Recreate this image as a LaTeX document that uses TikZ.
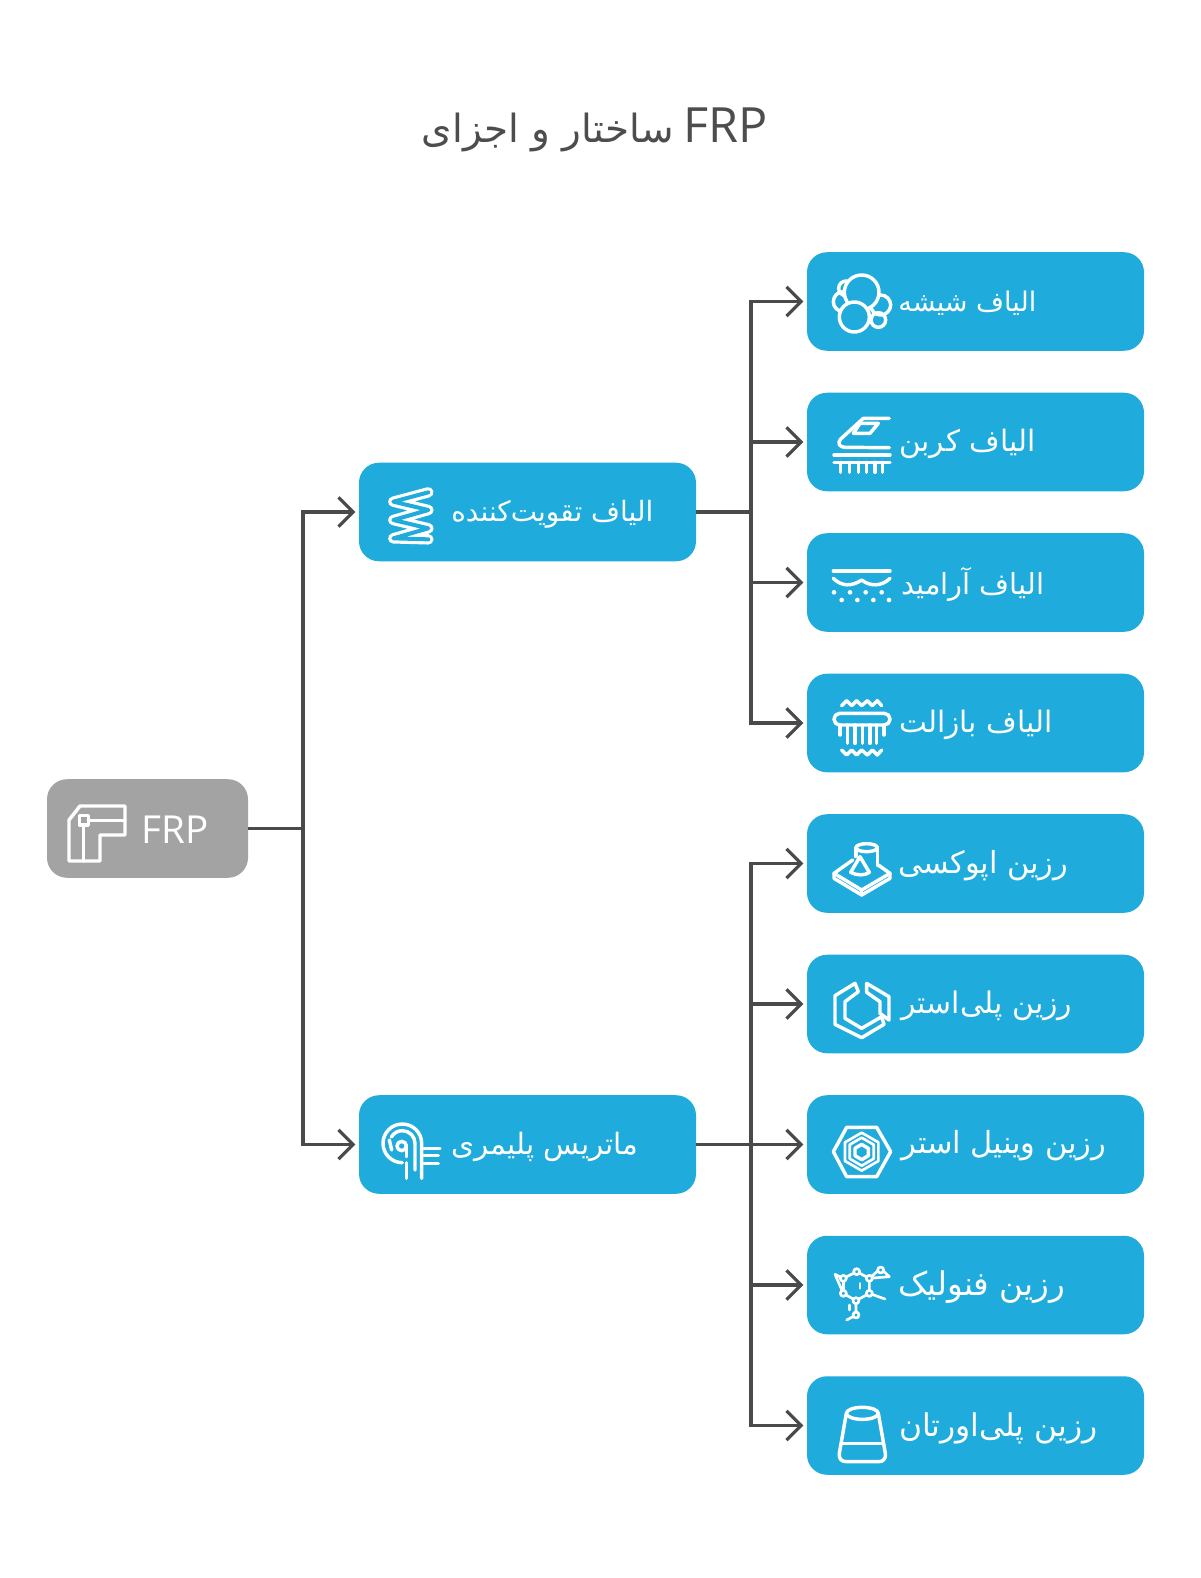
\documentclass[tikz,border=0pt]{standalone}
\usepackage{fontspec}
\usepackage{graphicx}
\usetikzlibrary{arrows.meta}
\setmainfont{Open Sans}
\newfontfamily\arabicfont[Script=Arabic]{DejaVu Sans}
\TeXXeTstate=1
\definecolor{boxblue}{HTML}{1FABDC}
\definecolor{boxgray}{HTML}{A3A3A3}
\definecolor{linegray}{HTML}{4A4A4A}
\definecolor{titlegray}{HTML}{4D4D4D}
\newdimen\pxu \pxu=0.75pt
\tikzset{
 boxbase/.style={rounded corners=15pt,minimum width=252.75pt,minimum height=73.9pt,inner sep=0pt,draw=none},
 bluebox/.style={boxbase,fill=boxblue},
 rootbox/.style={boxbase,fill=boxgray,minimum width=150.75pt},
 conn/.style={draw=linegray,line width=2.4pt,-{Straight Barb[length=11pt,width=22pt,line width=2.4pt]},shorten >=2.5pt},
 trunk/.style={draw=linegray,line width=2.4pt},
 labeltext/.style={text=white,inner sep=0pt,anchor=west},
 iconline/.style={draw=white,line width=2.6pt,line cap=round,line join=round},
 thin icon/.style={draw=white,line width=2pt,line cap=round,line join=round},
 iconscope/.style={x=0.25pt,y=-0.25pt}
}
\begin{document}
\begin{tikzpicture}[x=0.75pt,y=-0.75pt]
\useasboundingbox (0,0) rectangle (1200,1578);
\fill[white] (0,0) rectangle (1200,1578);
\node[text=titlegray,inner sep=0pt] (title) at (595,130) {\resizebox{346\pxu}{!}{\beginR\beginL\scalebox{1.25}{FRP}\endL{} {\arabicfont ساختار و اجزای}\endR}};
\node[rootbox] (root) at (147.5,828.5) {};
\node[bluebox] (m1) at (527.5,512) {};
\node[bluebox] (m2) at (527.5,1144.5) {};
\node[bluebox] (r1) at (975.5,301.5) {};
\node[bluebox] (r2) at (975.5,442) {};
\node[bluebox] (r3) at (975.5,582.5) {};
\node[bluebox] (r4) at (975.5,723) {};
\node[bluebox] (r5) at (975.5,863.5) {};
\node[bluebox] (r6) at (975.5,1004) {};
\node[bluebox] (r7) at (975.5,1144.5) {};
\node[bluebox] (r8) at (975.5,1285) {};
\node[bluebox] (r9) at (975.5,1425.5) {};
\coordinate (t0) at (303,828.5);
\coordinate (t1) at (751,512);
\coordinate (t2) at (751,1144.5);
\draw[trunk] (root.east) -- (t0);
\draw[conn] (t0) |- (m1.west);
\draw[conn] (t0) |- (m2.west);
\draw[trunk] (m1.east) -- (t1);
\draw[trunk] (m2.east) -- (t2);
\draw[conn] (t1) |- (r1.west);
\draw[conn] (t1) |- (r2.west);
\draw[conn] (t1) |- (r3.west);
\draw[conn] (t1) |- (r4.west);
\draw[conn] (t2) |- (r5.west);
\draw[conn] (t2) |- (r6.west);
\draw[conn] (t2) |- (r7.west);
\draw[conn] (t2) |- (r8.west);
\draw[conn] (t2) |- (r9.west);
% labels
\node[labeltext] (lroot) at (141,830) {\resizebox{67\pxu}{!}{FRP}};
\node[labeltext] (l1) at (451,514) {\resizebox{202\pxu}{!}{\arabicfont\beginR الیاف تقویت‌کننده\endR}};
\node[labeltext] (l2) at (451,1147) {\resizebox{187\pxu}{!}{\arabicfont\beginR ماتریس پلیمری\endR}};
\node[labeltext] (la) at (898,303) {\resizebox{138\pxu}{!}{\arabicfont\beginR الیاف شیشه\endR}};
\node[labeltext] (lb) at (899,444) {\resizebox{136\pxu}{!}{\arabicfont\beginR الیاف کربن\endR}};
\node[labeltext] (lc) at (901,584) {\resizebox{143\pxu}{!}{\arabicfont\beginR الیاف آرامید\endR}};
\node[labeltext] (ld) at (899,725) {\resizebox{153\pxu}{!}{\arabicfont\beginR الیاف بازالت\endR}};
\node[labeltext] (le) at (898,866) {\resizebox{170\pxu}{!}{\arabicfont\beginR رزین اپوکسی\endR}};
\node[labeltext] (lf) at (901,1006) {\resizebox{171\pxu}{!}{\arabicfont\beginR رزین پلی‌استر\endR}};
\node[labeltext] (lg) at (901,1146) {\resizebox{205\pxu}{!}{\arabicfont\beginR رزین وینیل استر\endR}};
\node[labeltext] (lh) at (898,1287) {\resizebox{167\pxu}{!}{\arabicfont\beginR رزین فنولیک\endR}};
\node[labeltext] (li) at (899,1428) {\resizebox{198\pxu}{!}{\arabicfont\beginR رزین پلی‌اورتان\endR}};
% root icon
\begin{scope}[shift={(30,770)},iconscope]
\draw[iconline] (117,273)--(117,150)--(150,108)--(285,108)--(285,195)--(210,195)--(210,273)--cycle;
\draw[iconline] (175,152)--(285,152);
\draw[iconline] (148,137) rectangle (175,165);
\draw[iconline] (160,165)--(160,273);
\end{scope}
% m1 spring
\begin{scope}[shift={(360,460)},iconscope]
\draw[draw=white,line width=2.4pt,double=boxblue,double distance=3pt,line join=round,line cap=round] (205,97)--(100,125)--(205,150)--(100,180)--(205,205)--(100,235)--(205,238);
\end{scope}
% m2 icon
\begin{scope}[shift={(360,1090)},iconscope]
\draw[iconline] (185,265)--(185,160) arc[start angle=0,end angle=-270,radius=58];
\draw[iconline] (165,240)--(165,160) arc[start angle=0,end angle=-150,radius=38];
\draw[iconline] (88,150)--(95,180);
\draw[iconline] (140,265)--(140,218);
\draw[iconline] (125,168) circle[radius=14];
\draw[iconline] (140,165)--(140,200);
\draw[iconline] (192,175)--(240,175);
\draw[iconline] (192,197)--(235,197);
\draw[iconline] (192,220)--(235,220);
\end{scope}
% glass
\begin{scope}[shift={(810,255)},iconscope]
\foreach \cx/\cy/\cr in {100/140/30,108/100/22,212/150/30,205/195/22}{\draw[iconline] (\cx,\cy) circle[radius=\cr];}
\draw[iconline,fill=boxblue] (155,112) circle[radius=52];
\draw[iconline,fill=boxblue] (133,186) circle[radius=45];
\end{scope}
% carbon
\begin{scope}[shift={(810,255)},iconscope]
\draw[iconline] (238,490)--(160,490)--(92,552) .. controls (80,565) and (90,577) .. (105,577)--(238,578);
\draw[iconline] (205,505)--(150,505)--(130,535)--(180,535)--cycle;
\draw[iconline] (72,600)--(240,600);
\draw[iconline] (72,622)--(240,622);
\foreach \tx in {92,118,145,170,195,218}{\draw[iconline] (\tx,622)--(\tx,652);}
\end{scope}
% aramid
\begin{scope}[shift={(810,535)},iconscope]
\draw[iconline] (70,108)--(240,108);
\draw[iconline] (70,130) .. controls (95,155) and (125,155) .. (155,135) .. controls (180,155) and (215,155) .. (240,130);
\foreach \dx in {72,120,167,215}{\fill[white] (\dx,172) circle[radius=7];}
\foreach \dx in {95,142,190,237}{\fill[white] (\dx,195) circle[radius=7];}
\end{scope}
% basalt
\begin{scope}[shift={(810,535)},iconscope]
\draw[iconline] (95,512)--(110,497)--(125,512)--(140,497)--(155,512)--(172,497)--(187,512)--(202,497)--(215,512);
\draw[iconline,rounded corners=4.25pt] (72,535) rectangle (240,570);
\draw[iconline] (90,570)--(90,600);
\draw[iconline] (222,570)--(222,600);
\foreach \tx in {112,135,158,180,200}{\draw[iconline] (\tx,570)--(\tx,625);}
\draw[iconline] (95,645)--(110,660)--(125,645)--(140,660)--(155,645)--(172,660)--(187,645)--(202,660)--(215,645);
\end{scope}
% epoxy
\begin{scope}[shift={(810,815)},iconscope]
\draw[iconline] (128,135)--(72,175)--(155,225)--(240,175)--(205,150);
\draw[iconline] (72,175)--(72,190)--(155,240)--(240,190)--(240,175);
\draw[iconline] (155,225)--(155,240);
\draw[iconline] (170,98) ellipse[x radius=32,y radius=12];
\draw[iconline] (138,98)--(138,125);
\draw[iconline] (202,98)--(202,152);
\draw[iconline] (150,125)--(122,172) .. controls (140,182) and (165,182) .. (178,172)--cycle;
\end{scope}
% polyester
\begin{scope}[shift={(810,815)},iconscope]
\draw[iconline] (135,505)--(75,542)--(75,628)--(155,668)--(222,628)--(215,605)--(155,640)--(105,610)--(105,560)--(145,530)--cycle;
\draw[iconline] (170,505)--(237,545)--(237,615)--(210,595)--(210,560)--(170,532)--cycle;
\end{scope}
% vinyl ester
\begin{scope}[shift={(810,1095)},iconscope]
\draw[iconline] (70,170)--(110,97)--(200,97)--(242,170)--(200,245)--(110,245)--cycle;
\draw[thin icon] (155,113)--(205,142)--(205,198)--(155,227)--(105,198)--(105,142)--cycle;
\draw[thin icon] (155,128)--(191,149)--(191,191)--(155,212)--(119,191)--(119,149)--cycle;
\draw[iconline] (155,148)--(175,160)--(175,182)--(155,194)--(135,182)--(135,160)--cycle;
\end{scope}
% phenolic
\begin{scope}[shift={(810,1095)},iconscope]
\draw[thin icon] (75,538)--(100,550)--(140,530)--(178,550)--(178,595)--(138,617)--(100,595)--cycle;
\draw[thin icon] (100,550)--(100,595);
\draw[thin icon] (178,550)--(212,520)--(238,545)--cycle;
\draw[thin icon] (178,595)--(225,612);
\draw[thin icon] (138,617)--(138,660)--(110,675);
\draw[thin icon] (118,630)--(118,645);
\draw[thin icon] (150,565)--(150,580);
\foreach \cx/\cy in {140/530,100/550,178/550,100/595,178/595,138/617,212/525,138/660}{\draw[thin icon,fill=boxblue] (\cx,\cy) circle[radius=9];}
\end{scope}
% urethane
\begin{scope}[shift={(810,1375)},iconscope]
\draw[iconline] (157,115) ellipse[x radius=48,y radius=18];
\draw[iconline] (109,115)--(88,235) .. controls (86,252) and (95,260) .. (110,260)--(205,260) .. controls (220,260) and (228,252) .. (226,235)--(205,115);
\draw[iconline] (95,205)--(220,205);
\end{scope}
\end{tikzpicture}
\end{document}
